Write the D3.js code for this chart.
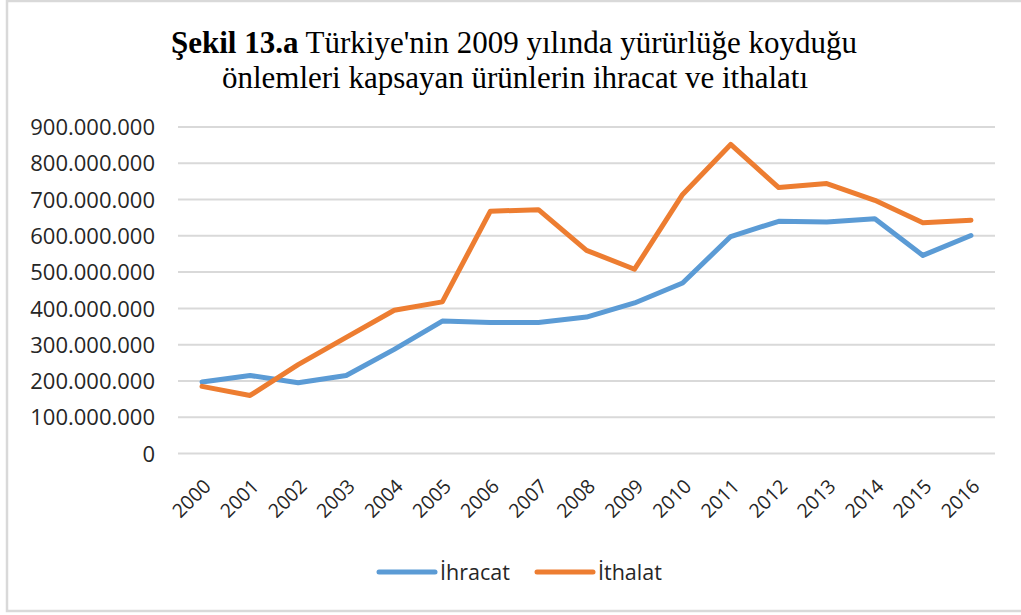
<!DOCTYPE html>
<html>
<head>
<meta charset="utf-8">
<script src="https://cdn.jsdelivr.net/npm/d3@7"></script>
<style>
  body { margin: 0; background: #fff; }
  svg { display: block; }
</style>
</head>
<body>
<svg id="chart" width="1021" height="615"></svg>
<script>
let years = ["2000","2001","2002","2003","2004","2005","2006","2007","2008","2009","2010","2011","2012","2013","2014","2015","2016"]
let ihracat = [197e6, 215e6, 195e6, 215e6, 287e6, 365e6, 361e6, 361e6, 376e6, 415e6, 470e6, 598e6, 640e6, 638e6, 647e6, 546e6, 601e6]
let ithalat = [185e6, 160e6, 245e6, 320e6, 395e6, 418e6, 668e6, 672e6, 560e6, 508e6, 714e6, 852e6, 733e6, 744e6, 698e6, 636e6, 643e6]
let yTicks = [0, 1e8, 2e8, 3e8, 4e8, 5e8, 6e8, 7e8, 8e8, 9e8]
let seriesNames = ["İhracat", "İthalat"]
let colors = ["#5B9BD5", "#ED7D31"]

let svg = d3.select("#chart")

// outer frame
svg.append("path")
   .attr("d", "M7,0 L7,611 L1021,611 M7,1 L1021,1")
   .attr("fill", "none")
   .attr("stroke", "#d9d9d9")
   .attr("stroke-width", 2.5)

let x = d3.scaleBand().domain(years).range([178, 995])
let y = d3.scaleLinear().domain([0, 9e8]).range([453.5, 127])

let fmt = v => v === 0 ? "0" : d3.format(",")(v).replace(/,/g, ".")

// gridlines
svg.append("g")
   .selectAll("line")
   .data(yTicks)
   .enter()
   .append("line")
   .attr("x1", 178)
   .attr("x2", 995)
   .attr("y1", d => y(d))
   .attr("y2", d => y(d))
   .attr("stroke", "#d9d9d9")
   .attr("stroke-width", 2)

// y axis labels
let yAxis = svg.append("g")
               .attr("transform", "translate(163,0)")
               .call(d3.axisLeft(y).tickValues(yTicks).tickFormat(fmt).tickSize(0).tickPadding(8))
yAxis.select(".domain").remove()
yAxis.selectAll("text")
     .attr("font-family", "'Open Sans', sans-serif")
     .attr("font-size", 22)
     .attr("fill", "#262626")
     .attr("dy", "0.35em")

// x axis labels
let xAxis = svg.append("g")
               .attr("transform", "translate(0,453.5)")
               .call(d3.axisBottom(x).tickSize(0).tickPadding(0))
xAxis.select(".domain").remove()
xAxis.selectAll("text")
     .attr("font-family", "'Open Sans', sans-serif")
     .attr("font-size", 19.5)
     .attr("fill", "#262626")
     .attr("text-anchor", "end")
     .attr("dy", 0)
     .attr("y", 0)
     .attr("transform", "translate(10,34) rotate(-45)")

// lines
let line = d3.line()
             .x((d, i) => x(years[i]) + x.bandwidth() / 2)
             .y(d => y(d))

;[ihracat, ithalat].forEach(function(series, k) {

  svg.append("path")
     .datum(series)
     .attr("d", line)
     .attr("fill", "none")
     .attr("stroke", colors[k])
     .attr("stroke-width", 5)
     .attr("stroke-linejoin", "round")
     .attr("stroke-linecap", "round")

})

// legend
let legend = svg.append("g")
let legendX = [379, 537]
seriesNames.forEach(function(name, k) {

  legend.append("line")
        .attr("x1", legendX[k])
        .attr("x2", legendX[k] + 56)
        .attr("y1", 572)
        .attr("y2", 572)
        .attr("stroke", colors[k])
        .attr("stroke-width", 5)
        .attr("stroke-linecap", "round")

  legend.append("text")
        .attr("x", legendX[k] + 61)
        .attr("y", 580)
        .attr("font-family", "'Open Sans', sans-serif")
        .attr("font-size", 21.5)
        .attr("fill", "#262626")
        .text(name)

})

// title
let title = svg.append("text")
               .attr("text-anchor", "middle")
               .attr("font-family", "'Liberation Serif', 'Times New Roman', serif")
               .attr("font-size", 31)
               .attr("fill", "#000")

let t1 = title.append("tspan").attr("x", 514).attr("y", 53)
t1.append("tspan").attr("font-weight", "bold").text("Şekil 13.a")
t1.append("tspan").text(" Türkiye'nin 2009 yılında yürürlüğe koyduğu")

title.append("tspan")
     .attr("x", 515)
     .attr("y", 88)
     .text("önlemleri kapsayan ürünlerin ihracat ve ithalatı")
</script>
</body>
</html>
